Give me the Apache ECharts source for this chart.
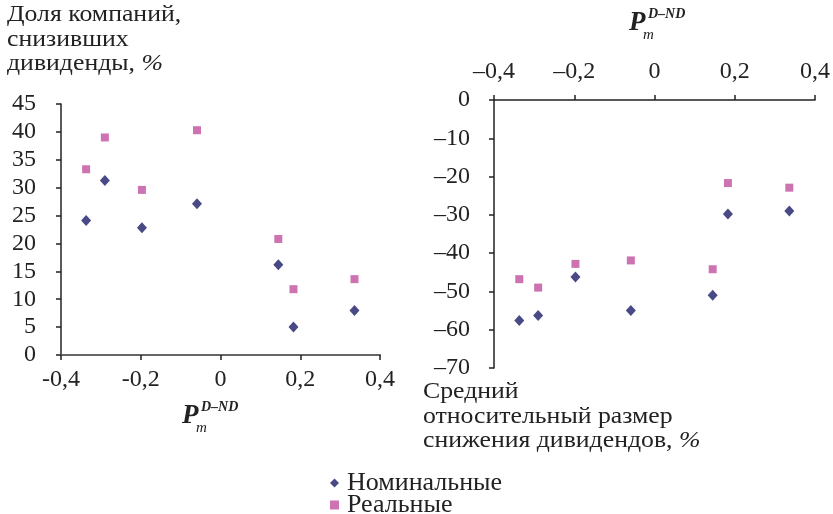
<!DOCTYPE html>
<html>
<head>
<meta charset="utf-8">
<script src="https://cdn.jsdelivr.net/npm/echarts@6/dist/echarts.min.js"></script>
<style>
html, body { margin: 0; padding: 0; background: #fff; }
#chart { width: 833px; height: 514px; }
</style>
</head>
<body>
<div id="chart"></div>
<script>
// Pm D-ND (общая ось X для обоих графиков)
var pm = [-0.337, -0.290, -0.197, -0.059, 0.145, 0.183, 0.336];
// доля компаний, снизивших дивиденды, %
var shareNominal = [24.1, 31.3, 22.8, 27.1, 16.2, 5.0, 8.0];
var shareReal = [33.3, 39.0, 29.6, 40.3, 20.8, 11.8, 13.6];
// средний относительный размер снижения дивидендов, %
var cutNominal = [-57.6, -56.3, -46.2, -55.0, -51.0, -29.8, -29.0];
var cutReal = [-46.8, -49.0, -42.8, -41.9, -44.2, -21.7, -22.9];
var seriesNames = ['Номинальные', 'Реальные'];

var font = 'Liberation Serif';
var navy = '#1a1c66';
var pink = '#c0509f';

function pairs(xs, ys) {
    return xs.map(function (x, i) { return [x, ys[i]]; });
}
function fmtComma(dash) {
    return function (v) {
        var s = Math.abs(v) < 1e-9 ? '0' : String(Math.abs(+v.toFixed(1))).replace('.', ',');
        return v < -1e-9 ? dash + s : s;
    };
}
// по одной легенде на строку, чтобы они стояли друг под другом
function legendRow(name, top) {
    return {
        data: [name],
        left: 330,
        top: top,
        padding: 0,
        itemWidth: 9,
        itemHeight: 9,
        textStyle: { fontFamily: font, fontSize: 26, color: '#222', padding: [0, 0, 0, 3] }
    };
}

var chart = echarts.init(document.getElementById('chart'));
var labelStyle = { fontFamily: font, fontSize: 24, color: '#222' };

option = {
    animation: false,
    legend: [legendRow(seriesNames[0], 470), legendRow(seriesNames[1], 492)],
    grid: [
        { left: 61, top: 104, width: 319, height: 251 },
        { left: 494, top: 100, width: 322, height: 268 }
    ],
    xAxis: [
        {
            gridIndex: 0, type: 'value', min: -0.4, max: 0.4, interval: 0.2,
            splitLine: { show: false },
            axisLine: { onZero: false, lineStyle: { color: '#666', width: 2 } },
            axisTick: { length: 5, lineStyle: { color: '#222', width: 1.5 } },
            axisLabel: Object.assign({ margin: 13, formatter: fmtComma('-') }, labelStyle)
        },
        {
            gridIndex: 1, type: 'value', position: 'top', min: -0.4, max: 0.4, interval: 0.2,
            splitLine: { show: false },
            axisLine: { onZero: false, lineStyle: { color: '#222', width: 1.5 } },
            axisTick: { length: 5, lineStyle: { color: '#222', width: 1.5 } },
            axisLabel: Object.assign({ margin: 16, formatter: fmtComma('\u2013') }, labelStyle)
        }
    ],
    yAxis: [
        {
            gridIndex: 0, type: 'value', min: 0, max: 45, interval: 5,
            splitLine: { show: false },
            axisLine: { show: true, onZero: false, lineStyle: { color: '#222', width: 1.5 } },
            axisTick: { show: true, length: 5, lineStyle: { color: '#222', width: 1.5 } },
            axisLabel: Object.assign({ margin: 25 }, labelStyle)
        },
        {
            gridIndex: 1, type: 'value', min: -70, max: 0, interval: 10,
            splitLine: { show: false },
            axisLine: { show: true, onZero: false, lineStyle: { color: '#222', width: 1.5 } },
            axisTick: { show: true, length: 5, lineStyle: { color: '#222', width: 1.5 } },
            axisLabel: Object.assign({
                margin: 24,
                formatter: function (v) { return v < 0 ? '\u2013' + Math.abs(v) : String(v); }
            }, labelStyle)
        }
    ],
    series: [
        {
            name: seriesNames[0], type: 'scatter', xAxisIndex: 0, yAxisIndex: 0,
            symbol: 'diamond', symbolSize: [10, 11], itemStyle: { color: navy },
            data: pairs(pm, shareNominal)
        },
        {
            name: seriesNames[1], type: 'scatter', xAxisIndex: 0, yAxisIndex: 0,
            symbol: 'rect', symbolSize: 8, itemStyle: { color: pink },
            data: pairs(pm, shareReal)
        },
        {
            name: seriesNames[0], type: 'scatter', xAxisIndex: 1, yAxisIndex: 1,
            symbol: 'diamond', symbolSize: [10, 11], itemStyle: { color: navy },
            data: pairs(pm, cutNominal)
        },
        {
            name: seriesNames[1], type: 'scatter', xAxisIndex: 1, yAxisIndex: 1,
            symbol: 'rect', symbolSize: 8, itemStyle: { color: pink },
            data: pairs(pm, cutReal)
        }
    ],
    graphic: [
        {
            type: 'text', x: 7, y: 3, scaleX: 1.12,
            style: {
                text: 'Доля компаний,\nснизивших\nдивиденды, {i|%}',
                font: '23px "Liberation Serif"', fill: '#222', lineHeight: 24.5,
                rich: { i: { fontStyle: 'italic', fontFamily: font, fontSize: 23 } }
            }
        },
        {
            type: 'text', x: 423, y: 380, scaleX: 1.12,
            style: {
                text: 'Средний\nотносительный размер\nснижения дивидендов, {i|%}',
                font: '23px "Liberation Serif"', fill: '#222', lineHeight: 24.5,
                rich: { i: { fontStyle: 'italic', fontFamily: font, fontSize: 23 } }
            }
        },
        // P_m^{D-ND} под левым графиком
        { type: 'text', left: 182, top: 403, style: { text: 'P', font: 'italic bold 27px "Liberation Serif"', fill: '#222' } },
        { type: 'text', left: 196, top: 421, style: { text: 'm', font: 'italic 15px "Liberation Serif"', fill: '#222' } },
        { type: 'text', left: 201, top: 400, style: { text: 'D\u2013ND', font: 'italic bold 14px "Liberation Serif"', fill: '#222' } },
        // P_m^{D-ND} над правым графиком
        { type: 'text', left: 629, top: 10, style: { text: 'P', font: 'italic bold 27px "Liberation Serif"', fill: '#222' } },
        { type: 'text', left: 643, top: 28, style: { text: 'm', font: 'italic 15px "Liberation Serif"', fill: '#222' } },
        { type: 'text', left: 648, top: 7, style: { text: 'D\u2013ND', font: 'italic bold 14px "Liberation Serif"', fill: '#222' } }
    ]
};
chart.setOption(option);
</script>
</body>
</html>
